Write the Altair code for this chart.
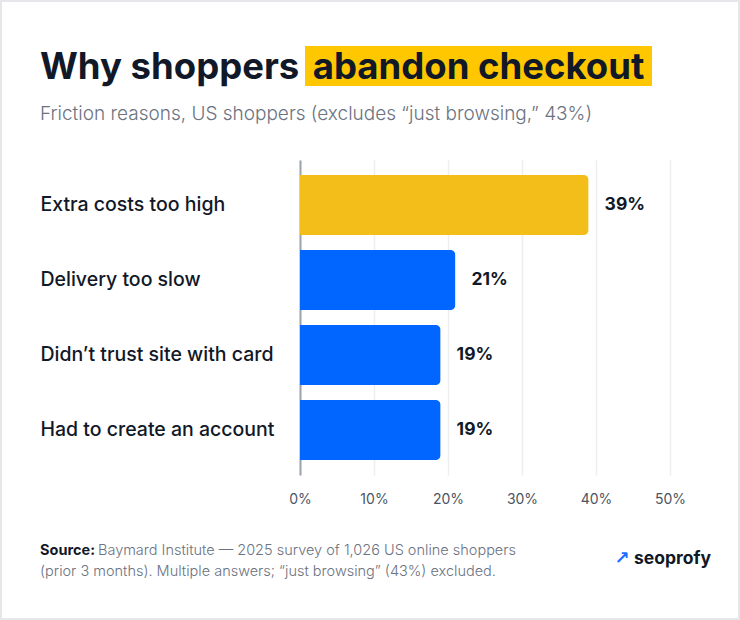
import altair as alt
import pandas as pd

categories = ["Extra costs too high", "Delivery too slow", "Didn\u2019t trust site with card", "Had to create an account"]
values = [39, 21, 19, 19]
x_ticks = [0, 10, 20, 30, 40, 50]

title_plain = "Why shoppers"
title_highlight = "abandon checkout"
subtitle = "Friction reasons, US shoppers (excludes \u201cjust browsing,\u201d 43%)"
source_bold = "Source:"
source_line1 = "Baymard Institute \u2014 2025 survey of 1,026 US online shoppers"
source_line2 = "(prior 3 months). Multiple answers; \u201cjust browsing\u201d (43%) excluded."
brand = "seoprofy"

FONT = "Inter"
DARK = "#111827"
GREY = "#6b7280"
YELLOW = "#F4BE1A"
BLUE = "#0066FF"

df = pd.DataFrame({"category": categories, "value": values})
df["label"] = df["value"].astype(str) + "%"

one = alt.Data(values=[{"k": 1}])

y_enc = alt.Y("category:N", sort=categories, title=None,
              scale=alt.Scale(paddingInner=0.2, paddingOuter=0.2),
              axis=alt.Axis(ticks=False, domain=True, domainColor="#9ca3af", domainWidth=2,
                            labelAlign="left", labelPadding=260, labelFontSize=19.5,
                            labelFont=FONT, labelFontWeight=500, labelColor=DARK, labelLimit=300))
x_enc = alt.X("value:Q", title=None, scale=alt.Scale(domain=[0, 50], nice=False),
              axis=alt.Axis(values=x_ticks, labelExpr="datum.value + '%'", domain=False, ticks=False,
                            grid=True, gridColor="#eeeeee", gridWidth=1.5, labelFontSize=14,
                            labelFlush=False,
                            labelFont=FONT, labelColor="#4b5563", labelPadding=17))

bars = alt.Chart(df).mark_bar(cornerRadiusEnd=5).encode(
    x=x_enc, y=y_enc,
    color=alt.Color("category:N", scale=alt.Scale(domain=categories, range=[YELLOW, BLUE, BLUE, BLUE]), legend=None),
)
labels = alt.Chart(df).mark_text(align="left", baseline="middle", dx=16, fontSize=17.5, fontWeight="bold",
                                 font=FONT, color=DARK).encode(x="value:Q", y=alt.Y("category:N", sort=categories), text="label:N")

def txt(s, x, y, size, color, weight="normal", align="left", baseline="alphabetic", font=FONT):
    return alt.Chart(one).mark_text(text=s, align=align, baseline=baseline, fontSize=size, color=color,
                                    fontWeight=weight, font=font).encode(x=alt.value(x), y=alt.value(y))

OX, OY = 300, 160

highlight = alt.Chart(one).mark_rect(color="#FFC700").encode(
    x=alt.value(305 - OX), x2=alt.value(652 - OX), y=alt.value(46 - OY), y2=alt.value(86 - OY))
border = alt.Chart(one).mark_rect(fill=None, stroke="#e5e7eb", strokeWidth=2).encode(
    x=alt.value(1 - OX), x2=alt.value(739 - OX), y=alt.value(1 - OY), y2=alt.value(619 - OY))

layers = [
    border,
    bars, labels,
    highlight,
    txt(title_plain, 40 - OX, 79 - OY, 36.5, DARK, "bold"),
    txt(title_highlight, 478.5 - OX, 79 - OY, 36.5, DARK, "bold", align="center"),
    txt(subtitle, 40 - OX, 120 - OY, 19, GREY, 300),
    txt(source_bold, 40 - OX, 555 - OY, 14.5, DARK, "bold"),
    txt(source_line1, 98 - OX, 555 - OY, 14.5, GREY, 300),
    txt(source_line2, 40 - OX, 576 - OY, 14.5, GREY, 300),
    txt("\u2197", 622 - OX, 559 - OY, 18, "#1a6dff", "bold", align="center", baseline="middle", font="DejaVu Sans"),
    txt(brand, 634 - OX, 564 - OY, 17.5, DARK, "bold"),
]

chart = alt.layer(*layers).properties(
    width=370, height=315,
    padding={"left": OX, "top": OY, "right": 70, "bottom": 145},
    autosize=alt.AutoSizeParams(type="none"),
    background="white",
).configure_view(stroke=None)

chart.save("out.html", embed_options={"renderer": "svg", "actions": False})
